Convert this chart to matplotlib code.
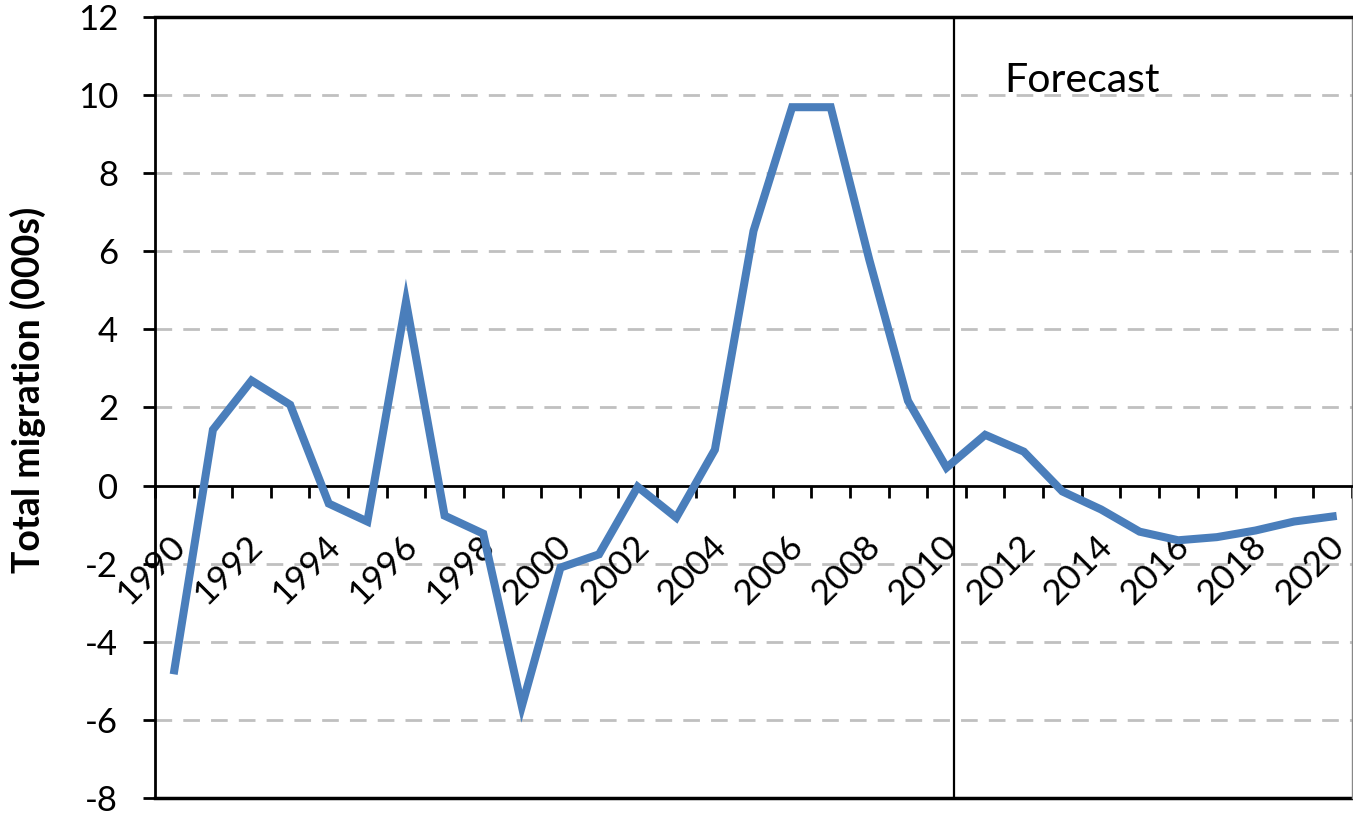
import numpy as np
import matplotlib
matplotlib.use("Agg")
from matplotlib import pyplot as plt
from matplotlib.transforms import ScaledTranslation

plt.rcParams["font.family"] = ["Lato", "DejaVu Sans"]
plt.rcParams["axes.unicode_minus"] = False

years = list(range(1990, 2021))
migration = [
    -4.73, 1.43, 2.69, 2.07, -0.46, -0.92, 4.71, -0.77, -1.23, -5.65,
    -2.10, -1.76, -0.03, -0.82, 0.92, 6.52, 9.69, 9.69, 5.78, 2.17,
    0.46, 1.30, 0.87, -0.15, -0.61, -1.18, -1.40, -1.32, -1.15, -0.92,
    -0.79,
]
forecast_label = "Forecast"
ylabel = "Total migration (000s)"

W, H = 1353, 819
fig = plt.figure(figsize=(W / 100, H / 100), dpi=100)
ax = fig.add_axes([155 / W, 1 - 798 / H, (1352 - 155) / W, (798 - 17) / H])

x = np.arange(len(years))
ax.plot(x, migration, color="#4a7ebb", lw=5.8, solid_joinstyle="miter", zorder=3)

ax.set_xlim(-0.5, len(years) - 0.5)
ax.set_ylim(-8, 12)

# gridlines
for yv in [-6, -4, -2, 2, 4, 6, 8, 10]:
    ax.axhline(yv, color="#c0c0c0", lw=2, ls=(0, (6, 4)), zorder=1)
ax.axhline(-8, color="black", lw=2.5, zorder=2, clip_on=False)

# forecast divider
ax.axvline(20.2, color="black", lw=1.6, zorder=2)
ax.text(21.5, 10.08, forecast_label, fontsize=29.5, ha="left", va="baseline")

# spines
ax.spines["bottom"].set_position(("data", 0))
ax.spines["bottom"].set_linewidth(2)
ax.spines["left"].set_linewidth(2)
ax.spines["top"].set_linewidth(2.5)
ax.spines["right"].set_color("#888888")
ax.spines["right"].set_linewidth(1)

# y axis
ax.set_yticks(range(-8, 13, 2))
ax.tick_params(axis="y", direction="out", length=8.5, width=2, pad=18, labelsize=25)

# x axis: ticks between categories, labels every 2 years
ax.set_xticks(np.arange(-0.5, len(years), 1.0), minor=True)
ax.set_xticks(x[::2])
ax.set_xticklabels([str(y) for y in years[::2]], rotation=45, ha="right",
                   va="center", rotation_mode="anchor", fontsize=25.5)
ax.tick_params(axis="x", which="minor", direction="out", length=8.5, width=2)
ax.tick_params(axis="x", which="major", length=0, pad=40)
for lab in ax.get_xticklabels():
    lab.set_transform(lab.get_transform() + ScaledTranslation(6 / 100, 0, fig.dpi_scale_trans))

fig.text(28 / W, 1 - 390 / H, ylabel, rotation=90, fontsize=27, fontweight="bold",
         ha="center", va="center")

fig.savefig("out.png", dpi=100)
